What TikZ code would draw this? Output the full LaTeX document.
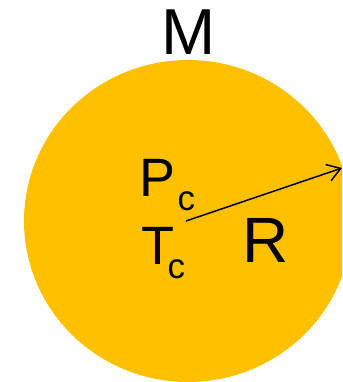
\documentclass[tikz,border=0pt]{standalone}
\usepackage{fontspec}
\setmainfont{Liberation Sans}
\usetikzlibrary{arrows.meta}
\definecolor{sungold}{HTML}{FFC000}
\tikzset{
  lbl/.style={inner sep=0pt, anchor=base west, text=black},
  radiusarrow/.style={line width=1.5pt, -{Straight Barb[length=13pt,width=17pt,line width=1.5pt]}}
}
\begin{document}
\begin{tikzpicture}[x=1pt,y=1pt]
\useasboundingbox (0,0) rectangle (342,382);
\begin{scope}
\clip (0,0) rectangle (342,382);
\fill[sungold] (188,161) ellipse [x radius=164, y radius=161];
\end{scope}
\coordinate (ctr) at (186,161);
\coordinate (edge) at (342,214);
\node[inner sep=0pt, anchor=base] (M) at (189,327) {\fontsize{65}{70}\selectfont M};
\node[lbl] (P) at (139,185) {\fontsize{54}{60}\selectfont P};
\node[lbl] (Pc) at (177.5,171) {\fontsize{35}{40}\selectfont c};
\node[lbl] (T) at (141,117) {\fontsize{54}{60}\selectfont T};
\node[lbl] (Tc) at (167.5,103) {\fontsize{35}{40}\selectfont c};
\node[lbl] (R) at (242,119) {\fontsize{64}{70}\selectfont R};
\draw[radiusarrow] (ctr) -- (edge);
\end{tikzpicture}
\end{document}
